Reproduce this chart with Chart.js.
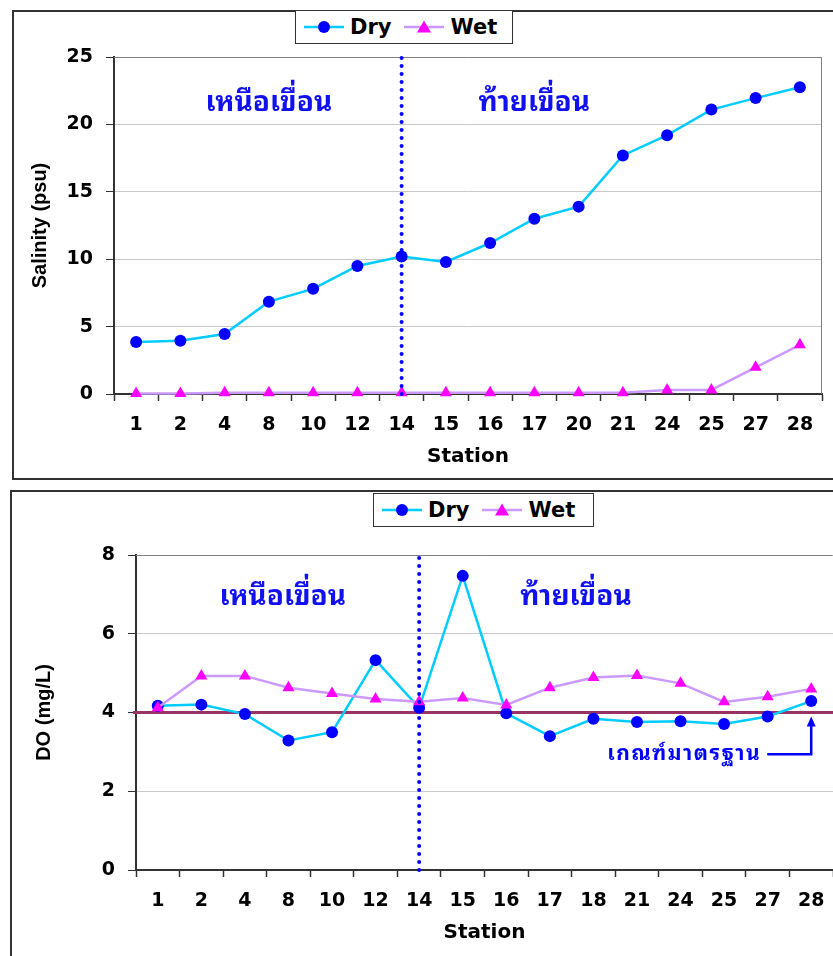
<!DOCTYPE html>
<html>
<head>
<meta charset="utf-8">
<title>Salinity and DO by station</title>
<script src="https://cdn.jsdelivr.net/npm/chart.js@4.4.1/dist/chart.umd.min.js"></script>
<style>
    html, body { margin: 0; padding: 0; background: #fff; }
    body { width: 833px; height: 956px; position: relative; overflow: hidden; }
    .frame { position: absolute; border: 2px solid #333; box-sizing: border-box; }
    #frameTop { left: 12px; top: 10px; width: 900px; height: 470px; }
    #frameBottom { left: 10px; top: 490px; width: 900px; height: 500px; }
    .chartBox { position: absolute; left: 0; }
    #boxTop { top: 0; width: 833px; height: 480px; }
    #boxBottom { top: 480px; width: 840px; height: 476px; }
    .legend { position: absolute; height: 34px; background: #fff; border: 1.5px solid #333; box-sizing: border-box;
              display: flex; align-items: center; padding-left: 8px; font: bold 21px 'DejaVu Sans', sans-serif; color: #000; }
    .legend svg { display: block; }
    .legend .lab { margin: 0 13px 0 6px; }
    #legendTop { left: 295px; top: 10px; width: 218px; }
    #legendBottom { left: 373px; top: 493px; width: 221px; }
</style>
</head>
<body>
<div class="frame" id="frameTop"></div>
<div class="frame" id="frameBottom"></div>
<div class="chartBox" id="boxTop"><canvas id="salinityChart"></canvas></div>
<div class="chartBox" id="boxBottom"><canvas id="doChart"></canvas></div>
<div class="legend" id="legendTop"></div>
<div class="legend" id="legendBottom"></div>

<script>
// stations, upstream -> downstream (dam at station 14)
var salinityStations = ['1', '2', '4', '8', '10', '12', '14', '15', '16', '17', '20', '21', '24', '25', '27', '28'];
var salinityDry = [3.85, 3.95, 4.45, 6.85, 7.8, 9.5, 10.2, 9.8, 11.2, 13.0, 13.9, 17.7, 19.2, 21.1, 21.95, 22.75];
var salinityWet = [0.03, 0.03, 0.1, 0.1, 0.1, 0.1, 0.1, 0.1, 0.1, 0.1, 0.1, 0.1, 0.3, 0.3, 1.98, 3.65];
var salinityTicks = [0, 5, 10, 15, 20, 25];

var doStations = ['1', '2', '4', '8', '10', '12', '14', '15', '16', '17', '18', '21', '24', '25', '27', '28'];
var doDry = [4.17, 4.2, 3.96, 3.29, 3.5, 5.33, 4.12, 7.47, 3.98, 3.4, 3.84, 3.76, 3.78, 3.71, 3.9, 4.29];
var doWet = [4.12, 4.93, 4.93, 4.63, 4.48, 4.34, 4.27, 4.37, 4.19, 4.63, 4.89, 4.94, 4.74, 4.27, 4.4, 4.6];
var doTicks = [0, 2, 4, 6, 8];

var damStation = '14';
var doStandard = 4;

var DRY_LINE = '#00ccff', DRY_MARK = '#0000ff';
var WET_LINE = '#cc99ff', WET_MARK = '#ff00ff';
var LABEL_FONT = "'DejaVu Sans', sans-serif";
var TITLE_FONT = "'Liberation Sans', Arial, sans-serif";
var THAI_FONT = "'Noto Sans Thai Looped', 'Noto Serif Thai', Loma, Garuda, Kinnari, Norasi, Sarabun, Tahoma, 'Noto Sans Thai', sans-serif";

function legendKey(line, mark, shape) {
    var m = shape === 'circle'
        ? '<circle cx="20" cy="8" r="6" fill="' + mark + '"/>'
        : '<polygon points="20,1.5 27,13.5 13,13.5" fill="' + mark + '"/>';
    return '<svg width="40" height="16"><line x1="0" y1="8" x2="40" y2="8" stroke="' + line + '" stroke-width="2.5"/>' + m + '</svg>';
}
['legendTop', 'legendBottom'].forEach(function(id) {
    document.getElementById(id).innerHTML =
        legendKey(DRY_LINE, DRY_MARK, 'circle') + '<span class="lab">Dry</span>' +
        legendKey(WET_LINE, WET_MARK, 'triangle') + '<span class="lab">Wet</span>';
});

// gray top (and optionally right) edge of the plot area
var plotFrame = {
    id: 'plotFrame',
    beforeDatasetsDraw: function(chart, args, opts) {
        var a = chart.chartArea, ctx = chart.ctx;
        ctx.save();
        ctx.strokeStyle = '#808080';
        ctx.lineWidth = 1;
        ctx.beginPath();
        ctx.moveTo(a.left, a.top + 0.5);
        ctx.lineTo(a.right - 0.5, a.top + 0.5);
        if (opts.right) ctx.lineTo(a.right - 0.5, a.bottom);
        ctx.stroke();
        ctx.restore();
    }
};

// upstream / downstream captions
var regionLabels = {
    id: 'regionLabels',
    afterDatasetsDraw: function(chart, args, opts) {
        if (!opts.items) return;
        var ctx = chart.ctx, x = chart.scales.x, y = chart.scales.y;
        ctx.save();
        ctx.font = opts.font;
        ctx.fillStyle = opts.color;
        ctx.textAlign = 'center';
        ctx.textBaseline = 'middle';
        opts.items.forEach(function(item) {
            ctx.fillText(item.text, x.getPixelForValue(item.at), y.getPixelForValue(item.y));
        });
        ctx.restore();
    }
};

// DO standard line + its caption with arrow
var standardLine = {
    id: 'standardLine',
    beforeDatasetsDraw: function(chart, args, opts) {
        if (opts.value === undefined) return;
        var ctx = chart.ctx, a = chart.chartArea;
        var py = chart.scales.y.getPixelForValue(opts.value);
        ctx.save();
        ctx.strokeStyle = '#993366';
        ctx.lineWidth = 3;
        ctx.beginPath();
        ctx.moveTo(a.left - 3, py);
        ctx.lineTo(a.right, py);
        ctx.stroke();
        ctx.restore();
    },
    afterDatasetsDraw: function(chart, args, opts) {
        if (opts.value === undefined) return;
        var ctx = chart.ctx;
        var ax = chart.scales.x.getPixelForValue(opts.at);
        var ty = chart.scales.y.getPixelForValue(opts.captionY);
        var tip = chart.scales.y.getPixelForValue(opts.tipY);
        ctx.save();
        ctx.strokeStyle = '#0000ff';
        ctx.fillStyle = '#0000ff';
        ctx.lineWidth = 2.5;
        ctx.beginPath();
        ctx.moveTo(ax - 44, ty);
        ctx.lineTo(ax, ty);
        ctx.lineTo(ax, tip + 8);
        ctx.stroke();
        ctx.beginPath();
        ctx.moveTo(ax, tip);
        ctx.lineTo(ax + 4.5, tip + 10);
        ctx.lineTo(ax - 4.5, tip + 10);
        ctx.closePath();
        ctx.fill();
        ctx.font = opts.font;
        ctx.letterSpacing = '1.5px';
        ctx.textAlign = 'right';
        ctx.textBaseline = 'middle';
        ctx.fillText(opts.text, ax - 50, ty);
        ctx.restore();
    }
};

function drawStationChart(canvasId, cfg) {
    var ctx = document.getElementById(canvasId).getContext('2d');
    var yMin = cfg.ticks[0], yMax = cfg.ticks[cfg.ticks.length - 1];
    return new Chart(ctx, {
        type: 'line',
        data: {
            labels: cfg.labels,
            datasets: [{
                label: 'Dam',
                data: [{x: damStation, y: yMin}, {x: damStation, y: yMax}],
                borderColor: '#0000ff',
                borderWidth: 4,
                borderDash: [0, 8],
                borderCapStyle: 'round',
                pointRadius: 0,
                clip: false,
                order: 0
            }, {
                label: 'Dry',
                data: cfg.dry,
                borderColor: DRY_LINE,
                borderWidth: 2.5,
                pointStyle: 'circle',
                pointRadius: 6,
                pointBackgroundColor: DRY_MARK,
                pointBorderColor: DRY_MARK,
                pointBorderWidth: 0,
                clip: false,
                order: 2
            }, {
                label: 'Wet',
                data: cfg.wet,
                borderColor: WET_LINE,
                borderWidth: 2.5,
                pointStyle: 'triangle',
                pointRadius: 7,
                pointBackgroundColor: WET_MARK,
                pointBorderColor: WET_MARK,
                pointBorderWidth: 0,
                clip: false,
                order: 1
            }]
        },
        options: {
            responsive: true,
            maintainAspectRatio: false,
            animation: false,
            layout: { padding: { top: cfg.padTop, right: cfg.padRight, left: 0, bottom: 0 } },
            plugins: {
                legend: { display: false },
                tooltip: { enabled: false },
                plotFrame: { right: cfg.frameRight },
                regionLabels: {
                    font: 'bold 28px ' + THAI_FONT,
                    color: '#1010f0',
                    items: cfg.regions
                },
                standardLine: cfg.standard || {}
            },
            scales: {
                x: {
                    type: 'category',
                    offset: true,
                    grid: { offset: true, drawOnChartArea: false, tickLength: 7, tickColor: '#333', tickWidth: 1.5 },
                    border: { color: '#333', width: 2 },
                    ticks: { color: '#000', font: { family: LABEL_FONT, weight: 'bold', size: 19 }, padding: 13, autoSkip: false, maxRotation: 0 },
                    title: { display: true, text: 'Station', color: '#000', font: { family: LABEL_FONT, weight: 'bold', size: 20 }, padding: { top: 0, bottom: 11 } },
                    afterFit: function(s) { s.height = cfg.xHeight; }
                },
                y: {
                    min: yMin,
                    max: yMax,
                    afterBuildTicks: function(s) { s.ticks = cfg.ticks.map(function(v) { return { value: v }; }); },
                    grid: { color: '#c8c8c8', lineWidth: 1, tickColor: '#333', tickLength: 8 },
                    border: { color: '#333', width: 2 },
                    ticks: { color: '#000', font: { family: LABEL_FONT, weight: 'bold', size: 19 }, padding: 13 },
                    title: { display: true, text: cfg.yTitle, color: '#000', font: { family: TITLE_FONT, weight: 'bold', size: 20 }, padding: { top: cfg.yTitlePad, bottom: 0 } },
                    afterFit: function(s) { s.width = cfg.yWidth; }
                }
            }
        },
        plugins: [plotFrame, regionLabels, standardLine]
    });
}

drawStationChart('salinityChart', {
    labels: salinityStations,
    dry: salinityDry,
    wet: salinityWet,
    ticks: salinityTicks,
    yTitle: 'Salinity (psu)',
    padTop: 57, padRight: 11, xHeight: 86, yWidth: 114, yTitlePad: 28, frameRight: true,
    regions: [
        { text: 'เหนือเขื่อน', at: 3.0, y: 21.6 },
        { text: 'ท้ายเขื่อน', at: 9.0, y: 21.6 }
    ]
});

drawStationChart('doChart', {
    labels: doStations,
    dry: doDry,
    wet: doWet,
    ticks: doTicks,
    yTitle: 'DO (mg/L)',
    padTop: 75, padRight: 0, xHeight: 86, yWidth: 136, yTitlePad: 32, frameRight: false,
    regions: [
        { text: 'เหนือเขื่อน', at: 2.87, y: 6.93 },
        { text: 'ท้ายเขื่อน', at: 9.6, y: 6.93 }
    ],
    standard: {
        value: doStandard,
        at: '28',
        captionY: 2.94,
        tipY: 3.9,
        text: 'เกณฑ์มาตรฐาน',
        font: 'bold 21px ' + THAI_FONT
    }
});
</script>
</body>
</html>
